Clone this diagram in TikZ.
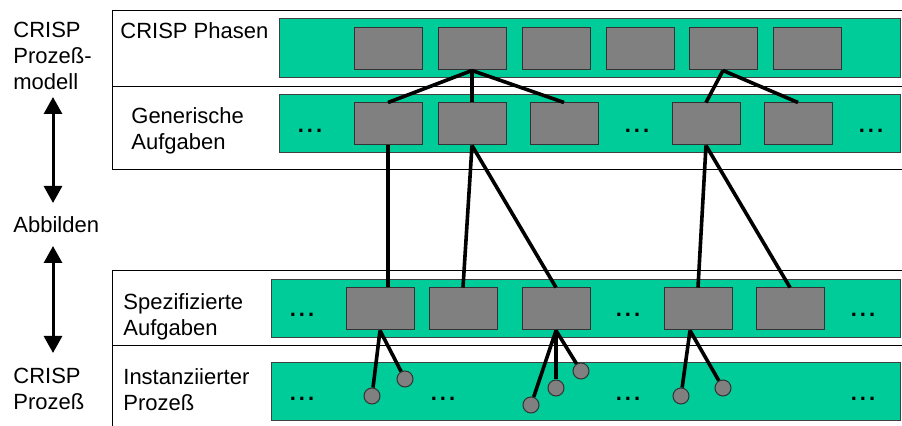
\documentclass[tikz,border=0pt]{standalone}
\usepackage{fontspec}
\setmainfont{Liberation Sans}
\usetikzlibrary{arrows.meta}
\definecolor{crispgreen}{RGB}{0,204,153}
\definecolor{taskgray}{RGB}{128,128,128}
\newcommand{\moredots}{.\kern1.5pt.\kern1.5pt.}

\begin{document}
\begin{tikzpicture}[x=0.5pt, y=-0.5pt,
    font=\fontsize{11}{13}\selectfont,
    frame/.style={draw=black, line width=0.5pt},
    bar/.style={fill=crispgreen, draw=black!75, line width=0.5pt},
    task/.style={rectangle, draw=black!80, fill=taskgray, minimum width=34pt, minimum height=21pt, inner sep=0pt, line width=0.5pt},
    inst/.style={circle, draw=black!80, fill=taskgray, minimum size=8pt, inner sep=0pt, line width=0.5pt},
    txt/.style={anchor=north west, inner sep=0pt, align=left},
    ellip/.style={inner sep=0pt, font=\fontsize{11}{13}\selectfont\bfseries},
    link/.style={line width=1.8pt},
    arrow/.style={{Triangle[width=9pt,length=8.5pt]}-{Triangle[width=9pt,length=8.5pt]}, line width=1.5pt}
]
\useasboundingbox (0,0) rectangle (902,426);

% Frames
\draw[frame] (902,11) -- (112,11) -- (112,170) -- (902,170);
\draw[frame] (112,87) -- (902,87);
\draw[frame] (902,271) -- (112,271) -- (112,426);
\draw[frame] (112,346) -- (902,346);

% Green bars
\draw[bar] (279,19) rectangle (900,78);
\draw[bar] (279,95) rectangle (900,153);
\draw[bar] (271,280) rectangle (900,338);
\draw[bar] (271,363) rectangle (900,421);

% Left labels
\node[txt] (modell) at (13,22) {CRISP\\Prozeß-\\modell};
\node[txt] (abbild) at (13,216) {Abbilden};
\node[txt] (prozess) at (13,368) {CRISP\\Prozeß};
\coordinate (arrTop1) at (53,97);
\coordinate (arrBot1) at (53,203);
\coordinate (arrTop2) at (53,246);
\coordinate (arrBot2) at (53,353);
\draw[arrow] (arrTop1) -- (arrBot1);
\draw[arrow] (arrTop2) -- (arrBot2);

% Layer labels
\node[txt] (phasen) at (120,22) {CRISP Phasen};
\node[txt] (generisch) at (131,107) {Generische\\Aufgaben};
\node[txt] (spezif) at (123,293) {Spezifizierte\\Aufgaben};
\node[txt] (instanz) at (123,368) {Instanziierter\\Prozeß};

% CRISP Phasen
\node[task] (p1) at (388,49) {};
\node[task] (p2) at (472,49) {};
\node[task] (p3) at (556,49) {};
\node[task] (p4) at (640,49) {};
\node[task] (p5) at (723,49) {};
\node[task] (p6) at (807,49) {};

% Generische Aufgaben
\node[ellip] (gdots1) at (310,131) {\moredots};
\node[task] (gA) at (388,124) {};
\node[task] (gB) at (472,124) {};
\node[task] (gC) at (564,124) {};
\node[ellip] (gdots2) at (637,131) {\moredots};
\node[task] (gD) at (706,124) {};
\node[task] (gE) at (798,124) {};
\node[ellip] (gdots3) at (871,131) {\moredots};

% Spezifizierte Aufgaben
\node[ellip] (sdots1) at (302,315) {\moredots};
\node[task] (sa) at (380,309) {};
\node[task] (sb) at (463,309) {};
\node[task] (sc) at (556,309) {};
\node[ellip] (sdots2) at (628,315) {\moredots};
\node[task] (sd) at (698,309) {};
\node[task] (se) at (790,309) {};
\node[ellip] (sdots3) at (863,315) {\moredots};

% Instanziierter Prozess
\node[ellip] (idots1) at (302,399) {\moredots};
\node[ellip] (idots2) at (443,399) {\moredots};
\node[ellip] (idots3) at (628,399) {\moredots};
\node[ellip] (idots4) at (863,399) {\moredots};
\node[inst] (i1) at (372,396) {};
\node[inst] (i2) at (405,379) {};
\node[inst] (i3) at (531,405) {};
\node[inst] (i4) at (556,388) {};
\node[inst] (i5) at (581,371) {};
\node[inst] (i6) at (681,396) {};
\node[inst] (i7) at (723,388) {};

% Links
\draw[link] (p2.south) -- (gA.north);
\draw[link] (p2.south) -- (gB.north);
\draw[link] (p2.south) -- (gC.north);
\draw[link] (p5.south) -- (gD.north);
\draw[link] (p5.south) -- (gE.north);
\draw[link] (gA.south) -- (gA.south |- sa.north);
\draw[link] (gB.south) -- (sb.north);
\draw[link] (gB.south) -- (sc.north);
\draw[link] (gD.south) -- (sd.north);
\draw[link] (gD.south) -- (se.north);
\draw[link] (sa.south) -- (i1);
\draw[link] (sa.south) -- (i2);
\draw[link] (sc.south) -- (i3);
\draw[link] (sc.south) -- (i4);
\draw[link] (sc.south) -- (i5);
\draw[link] ([xshift=-4pt]sd.south) -- (i6);
\draw[link] ([xshift=-4pt]sd.south) -- (i7);

\end{tikzpicture}
\end{document}
